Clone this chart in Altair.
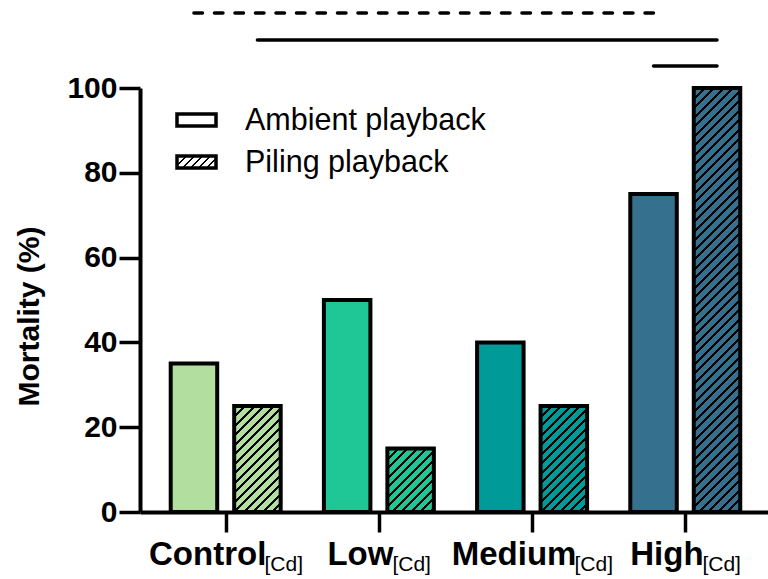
import altair as alt
import pandas as pd

# Mortality (%) per cadmium treatment and playback type
groups = ["Control", "Low", "Medium", "High"]
subscript = "[Cd]"
series = ["Ambient playback", "Piling playback"]
ambient = [35, 50, 40, 75]
piling = [25, 15, 25, 100]
group_colors = ["#B2DFA0", "#20C796", "#009A98", "#35718F"]
y_ticks = [0, 20, 40, 60, 80, 100]

# comparisons drawn above the bars: (group, series index) -> (group, series index)
cmp_from = [("Control", 0), ("Control", 1), ("High", 0)]
cmp_to = [("High", 0), ("High", 1), ("High", 1)]
cmp_dashed = [True, False, False]

# ---- layout (pixels) ----
PAD_LEFT, PAD_TOP = 140, 88
PLOT_W, PLOT_H = 628, 424
STEP = 155.67          # distance between group centres
FIRST = 82             # first group centre, measured from the y axis
BAR_W = 46.5
BAR_SHIFT = 32.25      # bar centre offset from its group centre
BRACKET_Y = [13, 40, 66]
FONT = "Liberation Sans"
LABEL_SIZE, SUB_SIZE = 33, 21
STROKE = 4

shift = BAR_SHIFT / STEP
x_domain = [-FIRST / STEP, (PLOT_W - FIRST) / STEP]


def bar_x(group, s):
    return groups.index(group) + (shift if s else -shift)


def hatch(base, w, h, period=9.5, line=3.0):
    """Diagonal '/' stripes as a hard-stop linear gradient over a w x h box."""
    total = w + h
    s = total / (w * w + h * h)
    stops = []
    p = 0.0
    while p < total:
        a = p / total
        b = min((p + line) / total, 1.0)
        c = min((p + period) / total, 1.0)
        stops += [
            {"offset": a, "color": "black"},
            {"offset": b, "color": "black"},
            {"offset": b, "color": base},
            {"offset": c, "color": base},
        ]
        p += period
    return {"gradient": "linear", "x1": 0, "y1": 0, "x2": s * w, "y2": s * h,
            "stops": stops}


# approximate advance widths (per 1000 em) for Liberation Sans
BOLD_W = {"C": 722, "o": 611, "n": 611, "t": 333, "r": 389, "l": 278, "L": 611,
          "w": 778, "M": 833, "e": 556, "d": 611, "i": 278, "u": 611, "m": 889,
          "H": 722, "g": 611, "h": 611}
REG_W = {"[": 278, "C": 722, "d": 556, "]": 278}


def text_w(txt, table, size):
    return sum(table.get(ch, 556) for ch in txt) * size / 1000.0


x_scale = alt.Scale(domain=x_domain, nice=False, zero=False)
y_scale = alt.Scale(domain=[0, 100], nice=False)
x_enc = alt.X(
    "xpos:Q", scale=x_scale, title=None,
    axis=alt.Axis(values=[0, 1, 2, 3], labels=False, grid=False, tickSize=20,
                  tickWidth=3.5, tickColor="black", domainWidth=STROKE,
                  domainColor="black"),
)
y_enc = alt.Y(
    "value:Q", scale=y_scale, title="Mortality (%)",
    axis=alt.Axis(values=y_ticks, grid=False, tickSize=21, tickWidth=3.5,
                  tickColor="black", domainWidth=STROKE, domainColor="black",
                  labelFont=FONT, labelFontSize=30, labelFontWeight="bold",
                  labelColor="black", labelPadding=2,
                  titleFont=FONT, titleFontSize=30, titleFontWeight="bold",
                  titleColor="black", titleAngle=270, titleAlign="center",
                  titleBaseline="middle", titleX=-111, titleY=PLOT_H / 2 + 16),
)

bar_style = dict(width=BAR_W, stroke="black", strokeWidth=STROKE,
                 strokeJoin="miter")

amb_df = pd.DataFrame({
    "group": groups,
    "value": ambient,
    "xpos": [bar_x(g, 0) for g in groups],
})
ambient_bars = alt.Chart(amb_df).mark_bar(**bar_style).encode(
    x=x_enc, y=y_enc,
    fill=alt.Fill("group:N", scale=alt.Scale(domain=groups, range=group_colors),
                  legend=None),
)

layers = [ambient_bars]
for g, v, col in zip(groups, piling, group_colors):
    df = pd.DataFrame({"group": [g], "value": [v], "xpos": [bar_x(g, 1)]})
    h = v / 100.0 * PLOT_H
    layers.append(
        alt.Chart(df).mark_bar(fill=hatch(col, BAR_W, h), **bar_style)
        .encode(x=x_enc, y=y_enc)
    )

# comparison lines above the bars
for (g0, s0), (g1, s1), dashed, ypx in zip(cmp_from, cmp_to, cmp_dashed, BRACKET_Y):
    df = pd.DataFrame({"xpos": [bar_x(g0, s0)], "xend": [bar_x(g1, s1)]})
    style = dict(color="black", strokeWidth=3.5, strokeCap="round")
    if dashed:
        style["strokeDash"] = [8.5, 12]
    layers.append(
        alt.Chart(df).mark_rule(**style).encode(
            x=alt.X("xpos:Q", scale=x_scale),
            x2="xend:Q",
            y=alt.value(ypx - PAD_TOP),
        )
    )

# category labels with [Cd] subscripts
main_x, sub_x = [], []
for i, g in enumerate(groups):
    wm = text_w(g, BOLD_W, LABEL_SIZE)
    ws = text_w(subscript, REG_W, SUB_SIZE)
    left = -(wm + ws) / 2
    main_x.append(i + left / STEP)
    sub_x.append(i + (left + wm) / STEP)
lab_df = pd.DataFrame({"label": groups, "xpos": main_x, "xsub": sub_x,
                       "sub": [subscript] * len(groups)})
layers.append(
    alt.Chart(lab_df).mark_text(
        align="left", baseline="alphabetic", font=FONT, fontSize=LABEL_SIZE,
        fontWeight="bold", color="black",
    ).encode(x=alt.X("xpos:Q", scale=x_scale), y=alt.value(565 - PAD_TOP),
             text="label:N")
)
layers.append(
    alt.Chart(lab_df).mark_text(
        align="left", baseline="alphabetic", font=FONT, fontSize=SUB_SIZE,
        color="black",
    ).encode(x=alt.X("xsub:Q", scale=x_scale), y=alt.value(571 - PAD_TOP),
             text="sub:N")
)

# legend
leg_df = pd.DataFrame({"label": series, "row": [0, 1]})
LEG_X0, LEG_X1 = 177 - PAD_LEFT, 216 - PAD_LEFT
LEG_ROWS = [(114, 126), (156, 168)]
for k in range(2):
    y0, y1 = LEG_ROWS[k]
    fill = "white" if k == 0 else hatch("white", LEG_X1 - LEG_X0, y1 - y0, period=8, line=2.5)
    layers.append(
        alt.Chart(leg_df[leg_df["row"] == k]).mark_rect(
            fill=fill, stroke="black", strokeWidth=3.5, strokeJoin="miter",
        ).encode(
            x=alt.value(LEG_X0), x2=alt.value(LEG_X1),
            y=alt.value(y0 - PAD_TOP), y2=alt.value(y1 - PAD_TOP),
        )
    )
    layers.append(
        alt.Chart(leg_df[leg_df["row"] == k]).mark_text(
            align="left", baseline="middle", font=FONT, fontSize=30.5,
            color="black",
        ).encode(
            x=alt.value(245 - PAD_LEFT),
            y=alt.value((y0 + y1) / 2 + 1 - PAD_TOP),
            text="label:N",
        )
    )

chart = alt.layer(*layers).properties(
    width=PLOT_W,
    height=PLOT_H,
    autosize=alt.AutoSizeParams(type="none"),
    padding={"left": PAD_LEFT, "top": PAD_TOP, "right": 0,
             "bottom": 579 - PAD_TOP - PLOT_H},
    background="white",
).configure_view(strokeWidth=0)

chart.save("out.html", embed_options={"renderer": "svg", "actions": False})
